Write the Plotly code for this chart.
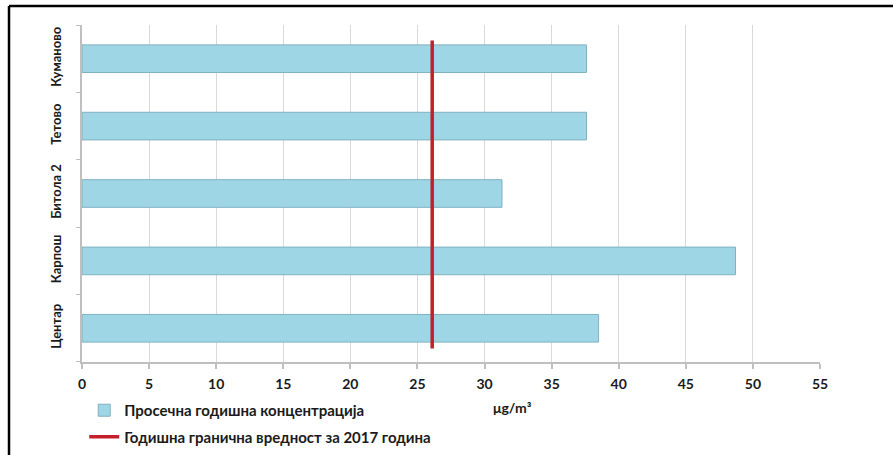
import plotly.graph_objects as go

# ---- data ----
stations = ["Центар", "Карпош", "Битола 2", "Тетово", "Куманово"]
avg_conc = [38.5, 48.7, 31.3, 37.6, 37.6]
limit_2017 = 26.1
x_ticks = [0, 5, 10, 15, 20, 25, 30, 35, 40, 45, 50, 55]
bar_name = "Просечна годишна концентрација"
line_name = "Годишна гранична вредност за 2017 година"
unit_label = "μg/m³"

FONT = "Lato"
TXT = "#1a1a1a"
Y_DOMAIN = [0.2163, 1.0]

fig = go.Figure()

fig.add_trace(go.Bar(
    x=avg_conc, y=stations, orientation="h", name=bar_name,
    width=0.41,
    marker=dict(color="#9fd6e6", line=dict(color="#7fb1c0", width=1)),
    legendgroup="a",
))

# limit line drawn on a hidden overlay axis spanning the plot height
fig.add_trace(go.Scatter(
    x=[limit_2017, limit_2017], y=[0.04, 0.954], mode="lines",
    name=line_name, yaxis="y2",
    line=dict(color="#c41f2a", width=3.5),
    legendgroup="b",
))

fig.update_layout(
    width=893, height=455,
    margin=dict(l=82, r=73, t=25, b=0),
    paper_bgcolor="white", plot_bgcolor="white",
    font=dict(family=FONT, size=13, color=TXT, weight="bold"),
    showlegend=True,
    legend=dict(
        x=0.003, y=0.1419, xanchor="left", yanchor="top",
        orientation="v", tracegroupgap=4,
        font=dict(family=FONT, size=15, color=TXT, weight="bold"),
        bgcolor="rgba(0,0,0,0)", itemwidth=30,
    ),
    xaxis=dict(
        range=[0, 55], tickvals=x_ticks, ticktext=[str(t) for t in x_ticks],
        showgrid=True, gridcolor="#d9d9d9", gridwidth=1.3,
        zeroline=False, showline=True, linecolor="#bfbfbf", linewidth=2,
        ticks="outside", tickcolor="#bfbfbf", ticklen=5, tickwidth=1.5,
        tickfont=dict(family=FONT, size=14, color=TXT, weight="bold"),
        ticklabelstandoff=3,
    ),
    yaxis=dict(
        domain=Y_DOMAIN,
        categoryorder="array", categoryarray=stations,
        showline=True, linecolor="#bfbfbf", linewidth=1.5,
        ticks="outside", tickson="boundaries", ticklen=4, tickcolor="#bfbfbf",
        tickangle=-90,
        tickfont=dict(family=FONT, size=13, color=TXT, weight="bold"),
        ticklabelstandoff=14, showgrid=False, zeroline=False,
    ),
    yaxis2=dict(
        domain=Y_DOMAIN,
        overlaying="y", range=[0, 1], visible=False, fixedrange=True,
    ),
    annotations=[dict(
        text=unit_label, xref="paper", yref="paper",
        x=0.584, y=0.086, showarrow=False,
        font=dict(family=FONT, size=14, color=TXT, weight="bold"),
    )],
    shapes=[
        dict(type="line", xref="paper", yref="paper",
             x0=-0.0989, x1=1.2, y0=1.044, y1=1.044,
             line=dict(color="black", width=2.5)),
        dict(type="line", xref="paper", yref="paper",
             x0=-0.0989, x1=-0.0989, y0=1.044, y1=-0.1,
             line=dict(color="black", width=2.5)),
    ],
)

fig.write_html(
    "out.html",
    config={"displayModeBar": False},
    post_script="document.body.style.margin='0';document.body.style.overflow='hidden';",
)
